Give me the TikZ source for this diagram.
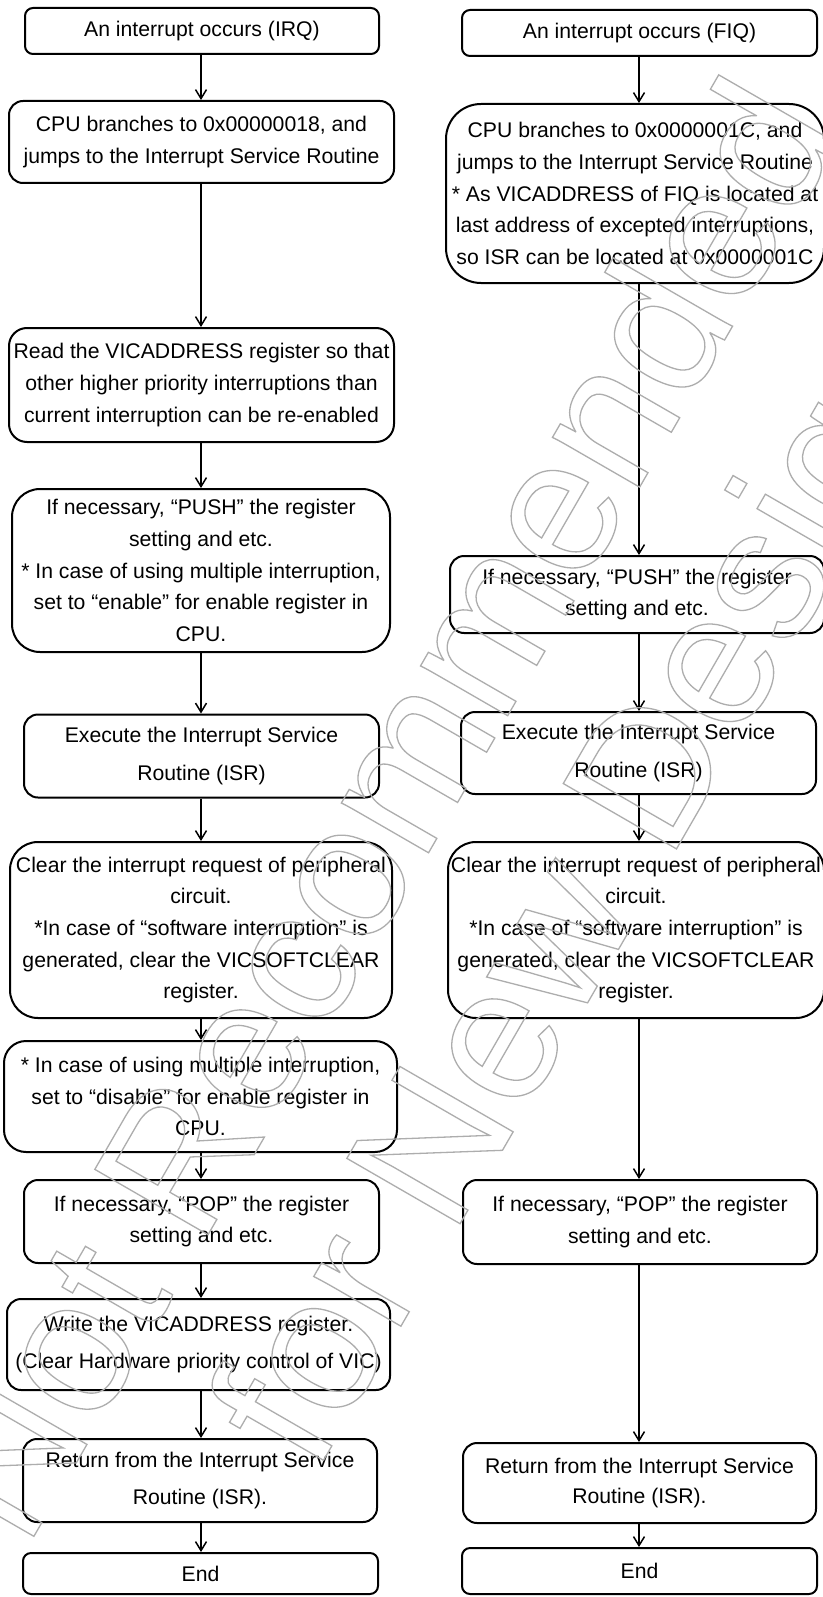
\documentclass[tikz,border=0pt]{standalone}
\usepackage{fontspec}
\setmainfont{Liberation Sans}
\usetikzlibrary{arrows.meta}
% stroke-only (outlined) text for the watermark
\newcommand\outlined[1]{\special{pdf:literal direct 1 Tr 1.3 w}#1\special{pdf:literal direct 0 Tr}}
\begin{document}
\begin{tikzpicture}[x=1pt,y=-1pt,
  stepbox/.style={draw=black, line width=2pt, align=center, inner sep=0pt,
    font=\fontsize{21.2}{31.7}\selectfont},
  wide/.style={font=\fontsize{21.2}{37.5}\selectfont},
  tight/.style={font=\fontsize{21.2}{30}\selectfont},
  flow/.style={draw=black, line width=1.5pt,
    -{Straight Barb[length=9pt,width=11pt,line width=1.5pt]}},
  mark text/.style={rotate=60, anchor=base west, inner sep=0pt, text=black!32,
    font=\fontsize{190}{190}\selectfont}]
\useasboundingbox (0,0) rectangle (822,1597);
\fill[white] (0,0) rectangle (822,1597);

% column axes
\coordinate (colL) at (201,0);
\coordinate (colR) at (639,0);

% IRQ column
\node[stepbox, rounded corners=8pt, minimum width=354pt, minimum height=46pt] (L1) at (202,31) {An interrupt occurs (IRQ)};
\node[stepbox, rounded corners=14pt, minimum width=385pt, minimum height=82pt] (L2) at (201.5,142) {CPU branches to 0x00000018, and\\jumps to the Interrupt Service Routine};
\node[stepbox, rounded corners=18pt, minimum width=385pt, minimum height=114pt] (L3) at (201.5,385) {Read the VICADDRESS register so that\\other higher priority interruptions than\\current interruption can be re-enabled};
\node[stepbox, rounded corners=28pt, minimum width=378pt, minimum height=163pt] (L4) at (201,570.5) {If necessary, “PUSH” the register\\setting and etc.\\* In case of using multiple interruption,\\set to “enable” for enable register in\\CPU.};
\node[stepbox, wide, rounded corners=14pt, minimum width=355pt, minimum height=83pt] (L5) at (201.5,756) {Execute the Interrupt Service\\Routine (ISR)};
\node[stepbox, rounded corners=28pt, minimum width=382pt, minimum height=176pt] (L6) at (201,930) {Clear the interrupt request of peripheral\\circuit.\\*In case of “software interruption” is\\generated, clear the VICSOFTCLEAR\\register.};
\node[stepbox, rounded corners=22pt, minimum width=393pt, minimum height=111pt] (L7) at (200.5,1096.5) {* In case of using multiple interruption,\\set to “disable” for enable register in\\CPU.};
\node[stepbox, rounded corners=14pt, minimum width=355pt, minimum height=83pt] (L8) at (201.5,1221.5) {If necessary, “POP” the register\\setting and etc.};
\node[stepbox, wide, rounded corners=14pt, minimum width=383pt, minimum height=91pt] (L9) at (198.5,1344.5) {Write the VICADDRESS register.\\(Clear Hardware priority control of VIC)};
\node[stepbox, wide, rounded corners=14pt, minimum width=354pt, minimum height=83pt] (L10) at (200,1480.5) {Return from the Interrupt Service\\Routine (ISR).};
\node[stepbox, rounded corners=8pt, minimum width=355pt, minimum height=41pt] (L11) at (200.5,1573.5) {End};

% FIQ column
\node[stepbox, rounded corners=8pt, minimum width=355pt, minimum height=46pt] (R1) at (639.5,33) {An interrupt occurs (FIQ)};
\node[stepbox, rounded corners=35pt, minimum width=378pt, minimum height=179pt] (R2) at (635,193.5) {CPU branches to 0x0000001C, and\\jumps to the Interrupt Service Routine\\* As VICADDRESS of FIQ is located at\\last address of excepted interruptions,\\so ISR can be located at 0x0000001C};
\node[stepbox, rounded corners=14pt, minimum width=374pt, minimum height=77pt] (R3) at (637,594.5) {If necessary, “PUSH” the register\\setting and etc.};
\node[stepbox, wide, rounded corners=14pt, minimum width=355pt, minimum height=82pt] (R4) at (638.5,753) {Execute the Interrupt Service\\Routine (ISR)};
\node[stepbox, rounded corners=28pt, minimum width=376pt, minimum height=176pt] (R5) at (636,930) {Clear the interrupt request of peripheral\\circuit.\\*In case of “software interruption” is\\generated, clear the VICSOFTCLEAR\\register.};
\node[stepbox, rounded corners=14pt, minimum width=354pt, minimum height=84pt] (R6) at (640,1222) {If necessary, “POP” the register\\setting and etc.};
\node[stepbox, tight, rounded corners=14pt, minimum width=353pt, minimum height=80pt] (R7) at (639.5,1483) {Return from the Interrupt Service\\Routine (ISR).};
\node[stepbox, rounded corners=8pt, minimum width=355pt, minimum height=46pt] (R8) at (639.5,1571) {End};

% connectors
\foreach \a/\b in {L1/L2,L2/L3,L3/L4,L4/L5,L5/L6,L6/L7,L7/L8,L8/L9,L9/L10,L10/L11}
  \draw[flow] (\a.south -| colL) -- (\b.north -| colL);
\foreach \a/\b in {R1/R2,R2/R3,R3/R4,R4/R5,R5/R6,R6/R7,R7/R8}
  \draw[flow] (\a.south -| colR) -- (\b.north -| colR);

% watermark
\node[mark text] (wm1) at (26,1550) {\outlined{Not Recommended}};
\node[mark text] (wm2) at (315,1475) {\outlined{for New Design}};
\end{tikzpicture}
\end{document}
